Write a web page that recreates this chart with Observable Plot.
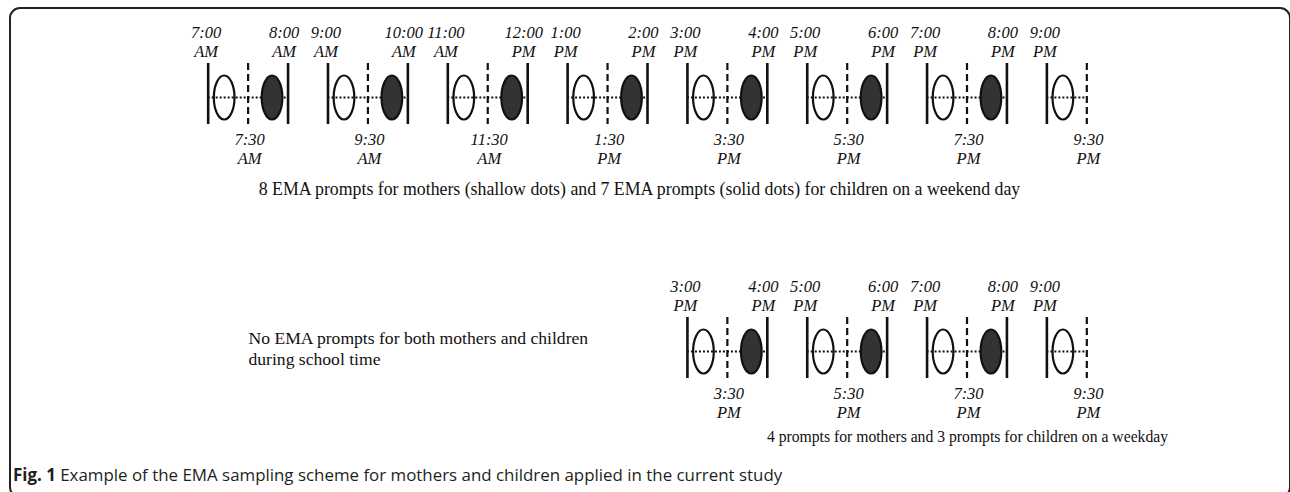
<!DOCTYPE html>
<html>
<head>
<meta charset="utf-8">
<script src="https://cdn.jsdelivr.net/npm/d3@7"></script>
<script src="https://cdn.jsdelivr.net/npm/@observablehq/plot@0.6"></script>
<style>
  html, body { margin: 0; padding: 0; background: #fff; }
  #wrap { position: relative; width: 1290px; height: 492px; overflow: hidden; background: #fff; }
  #chart { position: absolute; left: 0; top: 0; }
  #frame { position: absolute; left: 9px; top: 7px; width: 1282px; height: 491px; box-sizing: border-box;
           border: 2px solid #222; border-radius: 11px; pointer-events: none; }
  #caption { position: absolute; left: 13px; top: 464px; height: 22px; line-height: 22px;
             font-family: "Open Sans", "Noto Sans", sans-serif; font-size: 16.9px; color: #231f20; white-space: nowrap; }
  #caption b { font-weight: 700; }
</style>
</head>
<body>
<div id="wrap">
  <div id="chart"></div>
  <div id="frame"></div>
  <div id="caption"><b>Fig. 1</b> Example of the EMA sampling scheme for mothers and children applied in the current study</div>
</div>
<script>
// ---- data ----
const rowNames = ["weekend", "weekday"];

const weekendStart = ["7:00 AM", "9:00 AM", "11:00 AM", "1:00 PM", "3:00 PM", "5:00 PM", "7:00 PM", "9:00 PM"];
const weekendMid   = ["7:30 AM", "9:30 AM", "11:30 AM", "1:30 PM", "3:30 PM", "5:30 PM", "7:30 PM", "9:30 PM"];
const weekendEnd   = ["8:00 AM", "10:00 AM", "12:00 PM", "2:00 PM", "4:00 PM", "6:00 PM", "8:00 PM", null];
const weekendMotherPrompt = [1, 1, 1, 1, 1, 1, 1, 1];
const weekendChildPrompt  = [1, 1, 1, 1, 1, 1, 1, 0];

const weekdayStart = ["3:00 PM", "5:00 PM", "7:00 PM", "9:00 PM"];
const weekdayMid   = ["3:30 PM", "5:30 PM", "7:30 PM", "9:30 PM"];
const weekdayEnd   = ["4:00 PM", "6:00 PM", "8:00 PM", null];
const weekdayMotherPrompt = [1, 1, 1, 1];
const weekdayChildPrompt  = [1, 1, 1, 0];

const weekendCaption = "8 EMA prompts for mothers (shallow dots) and 7 EMA prompts (solid dots) for children on a weekend day";
const weekdayCaption = "4 prompts for mothers and 3 prompts for children on a weekday";
const schoolNote = "No EMA prompts for both mothers and children\nduring school time";

// ---- helpers ----
function hourOf(label) {
  const [hm, ap] = label.split(" ");
  const [h, m] = hm.split(":").map(Number);
  return (h % 12) + (ap === "PM" ? 12 : 0) + m / 60;
}
// each 2-hour sampling window occupies three half-hour slots (start, middle, end)
function slotOf(label) {
  const t = hourOf(label) - 7;
  const k = Math.floor(t / 2 + 1e-9);
  return 3 * k + 2 * (t - 2 * k);
}
const twoLine = (s) => s.replace(" ", "\n");

function buildBlocks(row, starts, mids, ends, moms, kids) {
  return starts.map((s, i) => ({
    row,
    start: slotOf(s), mid: slotOf(mids[i]), end: ends[i] ? slotOf(ends[i]) : null,
    startLabel: twoLine(s), midLabel: twoLine(mids[i]), endLabel: ends[i] ? twoLine(ends[i]) : null,
    mother: moms[i], child: kids[i]
  }));
}
const blocks = [
  ...buildBlocks("weekend", weekendStart, weekendMid, weekendEnd, weekendMotherPrompt, weekendChildPrompt),
  ...buildBlocks("weekday", weekdayStart, weekdayMid, weekdayEnd, weekdayMotherPrompt, weekdayChildPrompt)
];
const solidBars = blocks.flatMap(b => [{row: b.row, slot: b.start}, ...(b.end != null ? [{row: b.row, slot: b.end}] : [])]);
const withEnd = blocks.filter(b => b.end != null);

// custom ellipse symbol (tall oval)
const ellipse = {
  draw(ctx, size) {
    const ry = Math.sqrt(size / Math.PI), rx = ry * 0.47, k = 0.5523;
    ctx.moveTo(rx, 0);
    ctx.bezierCurveTo(rx, k * ry, k * rx, ry, 0, ry);
    ctx.bezierCurveTo(-k * rx, ry, -rx, k * ry, -rx, 0);
    ctx.bezierCurveTo(-rx, -k * ry, -k * rx, -ry, 0, -ry);
    ctx.bezierCurveTo(k * rx, -ry, rx, -k * ry, rx, 0);
    ctx.closePath();
  }
};

const serif = "'Liberation Serif', 'Times New Roman', serif";
const labelStyle = {fontFamily: serif, fontSize: 16.5, fontStyle: "italic", fill: "#111", lineHeight: 1.15, lineAnchor: "middle"};

const chart = Plot.plot({
  width: 1290,
  height: 455,
  margin: 0,
  x: {type: "linear", domain: [-5.2, 27.1], range: [0, 1290], axis: null},
  y: {type: "band", domain: rowNames, range: [62, 378], paddingInner: 0.76, paddingOuter: 0, axis: null},
  marks: [
    // dotted timeline through each window
    Plot.ruleY(blocks, {y: "row", x1: "start", x2: d => d.end ?? d.mid, stroke: "#111", strokeWidth: 1.8, strokeDasharray: "2,2", dy: 3.5}),
    // window boundaries
    Plot.tickX(solidBars, {x: "slot", y: "row", stroke: "#111", strokeWidth: 2.6}),
    // half-hour split
    Plot.tickX(blocks, {x: "mid", y: "row", stroke: "#111", strokeWidth: 2.2, strokeDasharray: "7,4"}),
    // prompts: mothers (open), children (solid)
    Plot.dot(blocks.filter(b => b.mother), {x: "start", y: "row", symbol: ellipse, r: 22, fill: "none", stroke: "#111", strokeWidth: 2.2, dx: 16, dy: 3.5}),
    Plot.dot(blocks.filter(b => b.child), {x: "end", y: "row", symbol: ellipse, r: 22, fill: "#333", stroke: "#111", strokeWidth: 2.2, dx: -16, dy: 3.5}),
    // time labels
    Plot.text(blocks, {x: "start", y: "row", text: "startLabel", dy: -53, dx: -2, ...labelStyle}),
    Plot.text(withEnd, {x: "end", y: "row", text: "endLabel", dy: -53, dx: -4, ...labelStyle}),
    Plot.text(blocks, {x: "mid", y: "row", text: "midLabel", dy: 54, dx: 1.5, ...labelStyle}),
    // captions
    Plot.text(["weekend"], {y: d => d, text: () => weekendCaption, frameAnchor: "middle", dx: -6, dy: 95.5, fontFamily: serif, fontSize: 17.8, fill: "#111"}),
    Plot.text(["weekday"], {y: d => d, text: () => weekdayCaption, frameAnchor: "middle", dx: 322, dy: 89, fontFamily: serif, fontSize: 15.7, fill: "#111"}),
    Plot.text(["weekday"], {y: d => d, text: () => schoolNote, frameAnchor: "left", textAnchor: "start", dx: 248, dy: 0, fontFamily: serif, fontSize: 17.6, fill: "#111", lineHeight: 1.15, lineAnchor: "middle"})
  ]
});
document.getElementById("chart").appendChild(chart);
</script>
</body>
</html>
